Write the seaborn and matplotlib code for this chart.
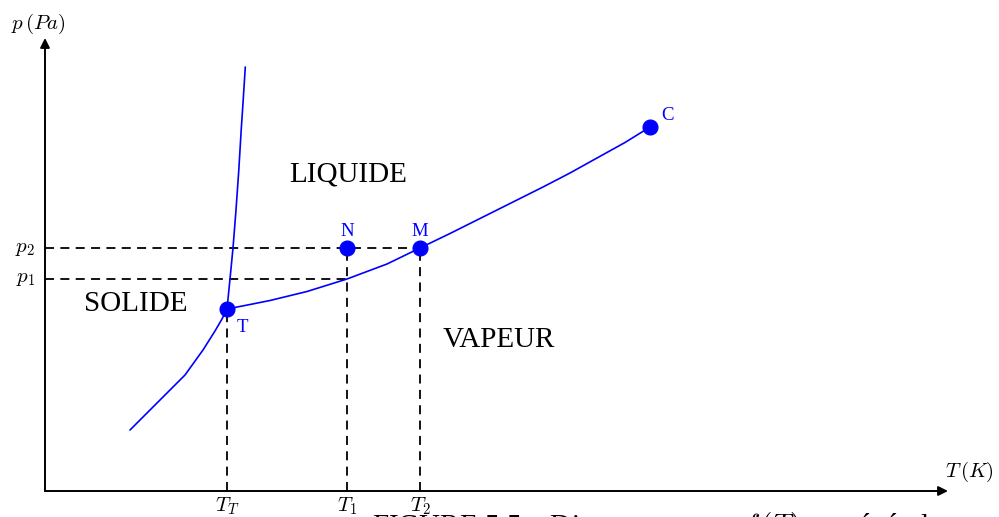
import numpy as np
import pandas as pd
import matplotlib
matplotlib.use("Agg")
import matplotlib.pyplot as plt
import seaborn as sns

# ---- data (arbitrary units, origin at axes crossing) ----
sub_T = [85, 112, 140, 158, 170, 177, 182]
sub_p = [61, 88, 116, 141, 160, 172, 182]

fus_T = [182, 185, 188, 191, 193.8, 196.2, 198.2, 200.3]
fus_p = [182, 212, 243, 281, 321, 361, 391, 424]

vap_T = [182, 205, 225, 262, 302, 342, 375, 405, 432, 465, 498, 525, 552, 580, 605]
vap_p = [182, 186.5, 190.5, 199.5, 212, 227, 243, 257.5, 271, 287.5, 304, 318, 333, 348.5, 364]

pt_names = ["T", "N", "M", "C"]
pt_T = [182, 302, 375, 605]
pt_p = [182, 243, 243, 364]

T_T, T_1, T_2 = 182, 302, 375
p_1, p_2 = 212, 243

x_tick_labels = [r"$T_T$", r"$T_1$", r"$T_2$"]
y_tick_labels = [r"$p_1$", r"$p_2$"]

sns.set_theme(style="white")
plt.rcParams["font.family"] = ["Liberation Serif", "DejaVu Serif"]
plt.rcParams["mathtext.fontset"] = "cm"
plt.rcParams["text.color"] = "black"

fig = plt.figure(figsize=(9.99, 5.17), dpi=100)
ax = fig.add_axes([0, 0, 1, 1])
ax.set_xlim(-45, 954)
ax.set_ylim(-26, 491)
ax.axis("off")

blue = "#0000ff"
for xs, ys in [(sub_T, sub_p), (fus_T, fus_p), (vap_T, vap_p)]:
    df = pd.DataFrame({"T": xs, "p": ys})
    sns.lineplot(data=df, x="T", y="p", sort=False, color=blue, lw=1.2, ax=ax, zorder=3,
                 solid_joinstyle="round", solid_capstyle="round")

# dashed guides
dash = dict(color="black", lw=1.3, ls=(0, (5, 3.5)), zorder=2)
ax.plot([0, T_2], [p_2, p_2], **dash)
ax.plot([0, T_1], [p_1, p_1], **dash)
ax.plot([T_T, T_T], [0, pt_p[0]], **dash)
ax.plot([T_1, T_1], [0, p_2], **dash)
ax.plot([T_2, T_2], [0, p_2], **dash)

dfp = pd.DataFrame({"T": pt_T, "p": pt_p, "name": pt_names})
sns.scatterplot(data=dfp, x="T", y="p", color=blue, s=115, edgecolor=blue, ax=ax, zorder=5, legend=False)

# point labels
ax.text(pt_T[0] + 15, pt_p[0] - 19, "T", color=blue, fontsize=13.5, ha="center", va="center")
ax.text(pt_T[1], pt_p[1] + 17, "N", color=blue, fontsize=13.5, ha="center", va="center")
ax.text(pt_T[2], pt_p[2] + 17, "M", color=blue, fontsize=13.5, ha="center", va="center")
ax.text(pt_T[3] + 18, pt_p[3] + 11, "C", color=blue, fontsize=13.5, ha="center", va="center")

# axes arrows
arr = dict(arrowstyle="-|>", lw=1.4, color="black", mutation_scale=14, shrinkA=0, shrinkB=0)
ax.annotate("", xy=(903, 0), xytext=(0, 0), arrowprops=arr)
ax.annotate("", xy=(0, 453), xytext=(0, 0), arrowprops=arr)

# tick labels
for xv, lab in zip([T_T, T_1, T_2], x_tick_labels):
    ax.text(xv, -4, lab, fontsize=15, ha="center", va="top", color="black")
for yv, lab in zip([p_1, p_2], y_tick_labels):
    ax.text(-10, yv, lab, fontsize=15, ha="right", va="center", color="black")

ax.text(924, 19, r"$T\,(K)$", fontsize=15, ha="center", va="center", color="black")
ax.text(-7, 467, r"$p\,(Pa)$", fontsize=15, ha="center", va="center", color="black")

# region labels
ax.text(303, 316, "LIQUIDE", fontsize=21, ha="center", va="center", color="black")
ax.text(91, 187, "SOLIDE", fontsize=21, ha="center", va="center", color="black")
ax.text(454, 151, "VAPEUR", fontsize=21, ha="center", va="center", color="black")

# clipped caption
ax.text(327, -19, r"FIGURE 5.5 – Diagramme $p = f\,(T)$ en général", fontsize=21,
        ha="left", va="top", clip_on=False, color="black")

fig.savefig("out.png", dpi=100)
